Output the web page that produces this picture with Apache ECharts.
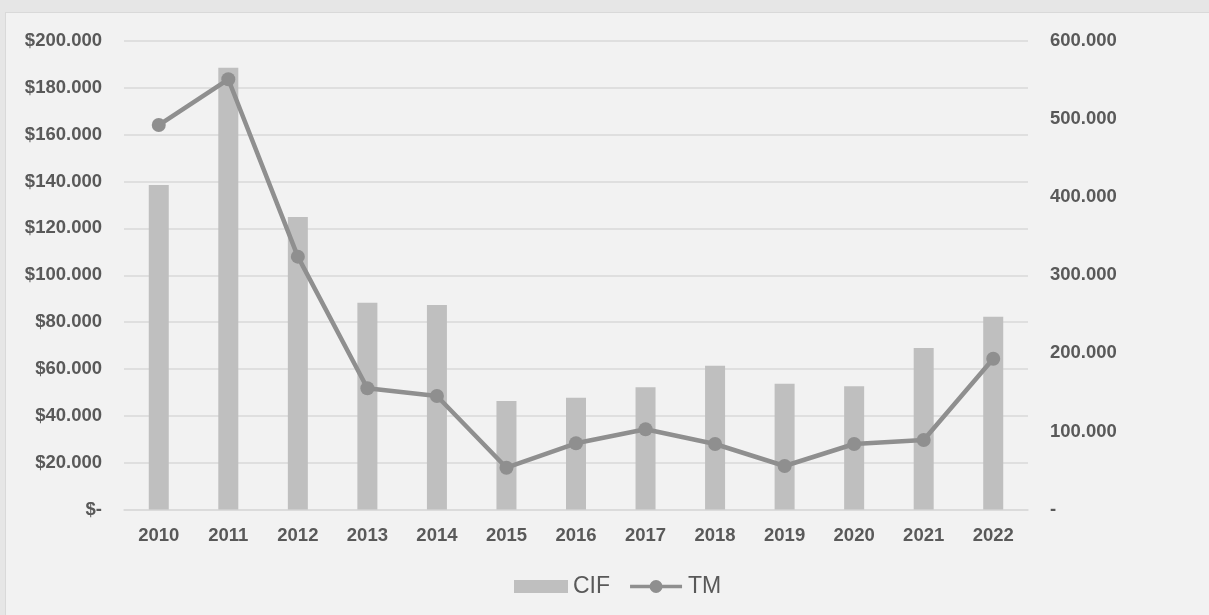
<!DOCTYPE html>
<html>
<head>
<meta charset="utf-8">
<script src="https://cdn.jsdelivr.net/npm/echarts@6/dist/echarts.min.js"></script>
<style>
html,body{margin:0;padding:0;background:#e6e6e6;width:1209px;height:615px;overflow:hidden;}
#panel{position:absolute;left:5px;top:12px;width:1220px;height:620px;background:#f2f2f2;border:1px solid #d9d9d9;box-sizing:border-box;}
#chart{position:absolute;left:0;top:0;width:1209px;height:615px;}
</style>
</head>
<body>
<div id="panel"></div>
<div id="chart"></div>
<script>
const years = ['2010','2011','2012','2013','2014','2015','2016','2017','2018','2019','2020','2021','2022'];
const cif = [138500, 188600, 124900, 88300, 87300, 46300, 47700, 52200, 61400, 53700, 52600, 68900, 82300];
const tm = [492400, 551000, 323800, 155200, 145400, 53500, 84800, 102700, 83900, 55700, 83900, 89000, 193100];

function fmt(v){
  return Math.round(v).toString().replace(/\B(?=(\d{3})+(?!\d))/g, '.');
}

const chart = echarts.init(document.getElementById('chart'), null, {renderer:'canvas'});
const FF = 'Liberation Sans, Arial, sans-serif';
const labelFont = {color:'#595959', fontWeight:'bold', fontSize:18.5, fontFamily:FF};
const lineIcon = 'path://M0 5H22V9H0Z M21 7A7 7 0 1 1 35 7A7 7 0 1 1 21 7Z M34 5H56V9H34Z';
chart.setOption({
  backgroundColor:'transparent',
  animation:false,
  grid:{left:124, right:181, top:41, bottom:105.5, containLabel:false},
  legend:{
    top:570, left:509,
    itemWidth:54, itemHeight:13, itemGap:20,
    textStyle:{color:'#595959', fontSize:23, fontFamily:FF},
    data:[{name:'CIF', icon:'rect'}, {name:'TM', icon:lineIcon}]
  },
  xAxis:{
    type:'category', data:years,
    axisLine:{lineStyle:{color:'#d9d9d9', width:1.5}},
    axisTick:{show:false},
    axisLabel:Object.assign({margin:17}, labelFont)
  },
  yAxis:[{
    type:'value', min:0, max:200000, interval:20000,
    axisLine:{show:false}, axisTick:{show:false},
    splitLine:{lineStyle:{color:'#d9d9d9', width:1.5}},
    axisLabel:Object.assign({margin:22, formatter:v=> v===0 ? '$-' : '$'+fmt(v)}, labelFont)
  },{
    type:'value', min:0, max:600000, interval:100000,
    axisLine:{show:false}, axisTick:{show:false},
    splitLine:{show:false},
    axisLabel:Object.assign({margin:22, formatter:v=> v===0 ? '-' : fmt(v)}, labelFont)
  }],
  series:[{
    name:'CIF', type:'bar', data:cif, yAxisIndex:0, barWidth:20,
    itemStyle:{color:'#bfbfbf'}
  },{
    name:'TM', type:'line', data:tm, yAxisIndex:1,
    symbol:'circle', symbolSize:14,
    lineStyle:{color:'#8f8f8f', width:4.5},
    itemStyle:{color:'#8f8f8f'}
  }]
});
</script>
</body>
</html>
